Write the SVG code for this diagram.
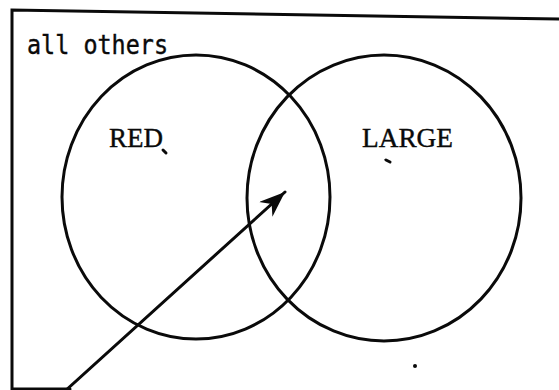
<svg xmlns="http://www.w3.org/2000/svg" width="559" height="390" viewBox="0 0 559 390">
<style>
.ln{fill:none;stroke:#0a0a0a;stroke-width:3;stroke-linecap:round}
.lbl{font-family:"Liberation Serif",serif;font-size:27px;fill:#0a0a0a;stroke:#0a0a0a;stroke-width:0.4}
.univ{font-family:"DejaVu Sans Mono","Liberation Mono",monospace;font-size:26px;fill:#0a0a0a;stroke:#0a0a0a;stroke-width:0.4}
.mark{fill:#0a0a0a}
</style>
<defs>
<marker id="ah" markerUnits="userSpaceOnUse" viewBox="0 0 26 20" refX="26" refY="10" markerWidth="26" markerHeight="20" orient="auto">
<path d="M0,0 L26,10 L0,20 L8,10 Z" fill="#0a0a0a"/>
</marker>
</defs>
<rect width="559" height="390" fill="#fff"/>
<g id="universe">
<path class="ln" d="M559,19 L12,10 L12,389 L70,389"/>
<text class="univ" x="27" y="54" textLength="141" lengthAdjust="spacingAndGlyphs">all others</text>
</g>
<g id="red">
<ellipse class="ln" cx="196" cy="197" rx="134" ry="142"/>
<text class="lbl" x="109" y="147" textLength="54" lengthAdjust="spacingAndGlyphs">RED</text>
<path class="ln" d="M163,150 L166,153" stroke-width="2"/>
</g>
<g id="large">
<ellipse class="ln" cx="384" cy="198" rx="137" ry="143"/>
<text class="lbl" x="362" y="147" textLength="91" lengthAdjust="spacingAndGlyphs">LARGE</text>
<path class="ln" d="M386,160 L390,162" stroke-width="2"/>
</g>
<g id="connectors">
<line class="ln" x1="65" y1="391" x2="285" y2="192" marker-end="url(#ah)"/>
</g>
<circle class="mark" cx="415" cy="366" r="2"/>
</svg>
